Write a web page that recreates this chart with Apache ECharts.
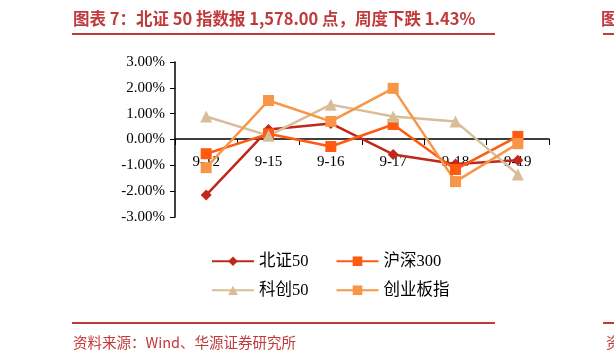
<!DOCTYPE html>
<html><head><meta charset="utf-8">
<script src="https://cdn.jsdelivr.net/npm/echarts@6/dist/echarts.min.js"></script>
<style>html,body{margin:0;padding:0;background:#fff;}#c{width:614px;height:362px;}</style>
</head><body><div id="c"></div>
<script>
const categories = ['9-12','9-15','9-16','9-17','9-18','9-19'];
const bz50  = [-2.15, 0.39, 0.62, -0.58, -0.95, -0.80];
const hs300 = [-0.55, 0.22, -0.27, 0.58, -1.16, 0.12];
const kc50  = [0.89, 0.15, 1.35, 0.89, 0.70, -1.35];
const cybz  = [-1.09, 1.51, 0.70, 1.98, -1.63, -0.16];
const names = ['北证50','沪深300','科创50','创业板指'];
const colors = ['#C0281A','#FF5A10','#D8BE98','#F79646'];
const symbols = ['diamond','rect','triangle','rect'];

const chart = echarts.init(document.getElementById('c'));
const dataArr = [bz50, hs300, kc50, cybz];
const red = '#C0393B';
const legendText = {fontFamily:'"Liberation Serif","Noto Sans CJK SC",serif', fontSize:16.5, color:'#000'};
chart.setOption({
  animation:false,
  grid:{left:175, right:65, top:62, bottom:145},
  xAxis:{type:'category', data:categories, boundaryGap:true, offset:-78,
    axisLine:{onZero:false, lineStyle:{color:'#000', width:1.5}},
    axisTick:{show:true, length:6, lineStyle:{color:'#000'}},
    axisLabel:{fontFamily:'"Liberation Serif",serif', fontSize:15, color:'#000', margin:16}},
  yAxis:{type:'value', min:-3, max:3, interval:1,
    splitLine:{show:false},
    axisLine:{show:true, lineStyle:{color:'#000', width:1.5}},
    axisTick:{show:true, length:5, lineStyle:{color:'#000'}},
    axisLabel:{fontFamily:'"Liberation Serif",serif', fontSize:15, color:'#000', margin:10,
      formatter:v=>v.toFixed(2)+'%'}},
  legend:[
    {data:[names[0],names[1]], left:211, top:253, padding:0, itemWidth:42, itemHeight:12, itemGap:27, textStyle:legendText},
    {data:[names[2],names[3]], left:211, top:282, padding:0, itemWidth:42, itemHeight:12, itemGap:27, textStyle:legendText}
  ],
  series: names.map((n,i)=>({
    name:n, type:'line', data:dataArr[i], symbol:symbols[i],
    symbolSize: i===0?11:(i===2?12:11), showSymbol:true,
    itemStyle:{color:colors[i]}, lineStyle:{color:colors[i], width:2.5}
  })),
  graphic:[
    {type:'text', left:73, top:10, style:{text:'图表 7：北证 50 指数报 1,578.00 点，周度下跌 1.43%', fill:red,
      font:'bold 16.5px "Noto Sans CJK SC", sans-serif'}},
    {type:'rect', shape:{x:72, y:33, width:423, height:2}, style:{fill:red}},
    {type:'text', left:601, top:10, style:{text:'图表 8', fill:red, font:'bold 16.5px "Noto Sans CJK SC", sans-serif'}},
    {type:'rect', shape:{x:603, y:33, width:20, height:2}, style:{fill:red}},
    {type:'rect', shape:{x:72, y:322, width:423, height:2}, style:{fill:red}},
    {type:'rect', shape:{x:603, y:322, width:20, height:2}, style:{fill:red}},
    {type:'text', left:73, top:335, style:{text:'资料来源：Wind、华源证券研究所', fill:red,
      font:'14.5px "Noto Sans CJK SC", sans-serif'}},
    {type:'text', left:606, top:335, style:{text:'资', fill:red, font:'14.5px "Noto Sans CJK SC", sans-serif'}}
  ]
});
</script></body></html>
